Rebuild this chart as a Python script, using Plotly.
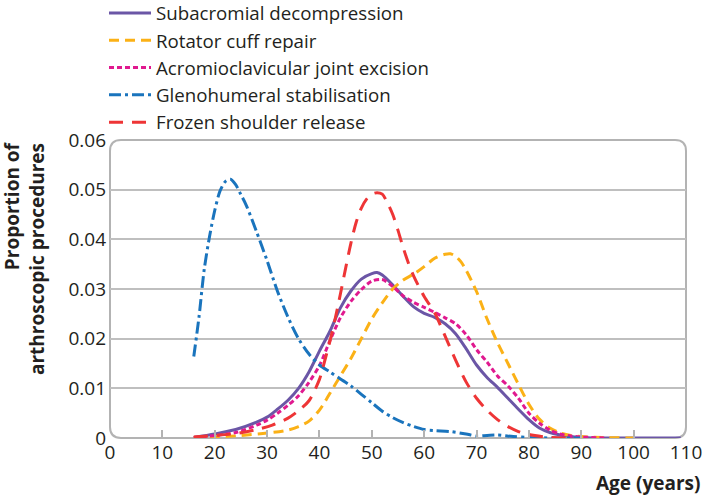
import plotly.graph_objects as go

# ---- data ----
ages_sub = [16, 20, 24, 28, 30, 32, 34, 36, 38, 40, 42, 44, 46, 48, 50, 51, 52, 54, 56, 58, 60, 62, 64, 66, 68, 70, 72, 74, 76, 78, 80, 82, 84, 86, 88, 90, 95, 100, 109]
vals_sub = [0.0001, 0.0008, 0.0017, 0.0032, 0.0042, 0.0058, 0.0076, 0.0100, 0.0133, 0.0175, 0.0215, 0.0262, 0.0296, 0.0320, 0.0331, 0.0333, 0.0328, 0.0308, 0.0285, 0.0264, 0.0251, 0.0243, 0.0230, 0.0210, 0.0180, 0.0147, 0.0122, 0.0102, 0.0080, 0.0058, 0.0037, 0.0020, 0.0011, 0.0006, 0.0003, 0.0001, 0.0, 0.0, 0.0]

ages_rc = [16, 20, 25, 30, 34, 36, 38, 40, 42, 44, 46, 48, 50, 52, 54, 56, 58, 60, 62, 64, 65, 66, 67, 68, 70, 72, 74, 76, 78, 80, 82, 84, 86, 88, 90, 94, 100]
vals_rc = [0.0001, 0.0002, 0.0005, 0.0010, 0.0016, 0.0023, 0.0034, 0.0056, 0.0090, 0.0125, 0.0160, 0.0200, 0.0240, 0.0272, 0.0300, 0.0318, 0.0330, 0.0345, 0.0362, 0.0370, 0.0371, 0.0366, 0.0355, 0.0338, 0.0295, 0.0240, 0.0192, 0.0150, 0.0108, 0.0068, 0.0038, 0.0020, 0.0010, 0.0005, 0.0003, 0.0001, 0.0]

ages_acj = [16, 20, 24, 28, 30, 32, 34, 36, 38, 40, 42, 44, 46, 48, 50, 52, 54, 56, 58, 60, 62, 64, 66, 68, 70, 72, 74, 76, 78, 80, 82, 84, 86, 88, 90, 95]
vals_acj = [0.0001, 0.0005, 0.0011, 0.0026, 0.0036, 0.0050, 0.0066, 0.0085, 0.0112, 0.0146, 0.0196, 0.0242, 0.0275, 0.0299, 0.0316, 0.0319, 0.0305, 0.0286, 0.0273, 0.0263, 0.0253, 0.0242, 0.0230, 0.0208, 0.0178, 0.0153, 0.0125, 0.0105, 0.0080, 0.0050, 0.0030, 0.0016, 0.0008, 0.0004, 0.0002, 0.0]

ages_gh = [16, 17, 18, 19, 20, 21, 22, 23, 24, 25, 26, 28, 30, 32, 34, 36, 38, 40, 42, 44, 46, 48, 50, 52, 54, 56, 58, 60, 62, 65, 68, 70, 72, 74, 77, 80, 85, 90]
vals_gh = [0.0164, 0.0244, 0.0340, 0.0405, 0.0458, 0.0497, 0.0516, 0.0521, 0.0510, 0.0490, 0.0469, 0.0415, 0.0357, 0.0295, 0.0243, 0.0200, 0.0169, 0.0147, 0.0133, 0.0119, 0.0105, 0.0088, 0.0071, 0.0054, 0.0041, 0.0031, 0.0023, 0.0017, 0.0015, 0.0013, 0.0008, 0.0004, 0.0005, 0.0006, 0.0003, 0.0001, 0.0, 0.0]

ages_fs = [16, 20, 24, 28, 31, 34, 36, 38, 40, 41, 42, 43, 44, 45, 46, 47, 48, 49, 50, 51, 52, 53, 54, 55, 56, 57, 58, 60, 62, 64, 66, 68, 70, 72, 74, 76, 78, 80, 84, 88]
vals_fs = [0.0002, 0.0005, 0.0009, 0.0017, 0.0026, 0.0040, 0.0055, 0.0075, 0.0118, 0.0155, 0.0195, 0.0240, 0.0290, 0.0342, 0.0392, 0.0434, 0.0463, 0.0481, 0.0491, 0.0494, 0.0491, 0.0473, 0.0450, 0.0418, 0.0383, 0.0352, 0.0326, 0.0285, 0.0252, 0.0205, 0.0157, 0.0113, 0.0080, 0.0056, 0.0037, 0.0023, 0.0013, 0.0007, 0.0001, 0.0]

x_ticks = [0, 10, 20, 30, 40, 50, 60, 70, 80, 90, 100, 110]
y_ticks = [0, 0.01, 0.02, 0.03, 0.04, 0.05, 0.06]
y_ticktext = ["0", "0.01", "0.02", "0.03", "0.04", "0.05", "0.06"]

FONT = "Open Sans"
TXT = "#231f20"
GRID = "#bfbfbf"

series = [
    ("Subacromial decompression", ages_sub, vals_sub, "#6b56a6", "solid"),
    ("Rotator cuff repair", ages_rc, vals_rc, "#fbb116", "10px,6px"),
    ("Acromioclavicular joint excision", ages_acj, vals_acj, "#e0198f", "5px,3px"),
    ("Glenohumeral stabilisation", ages_gh, vals_gh, "#1a74bd", "12px,4px,3px,4px"),
    ("Frozen shoulder release", ages_fs, vals_fs, "#ee3536", "14px,9px"),
]

fig = go.Figure()
for name, xs, ys, col, dash in series:
    fig.add_trace(go.Scatter(
        x=xs, y=ys, name=name, mode="lines",
        line=dict(color=col, width=3, dash=dash, shape="spline", smoothing=0.8),
    ))

# rounded frame (paper coords), radius ~11px
L, R, T, B = 110, 18, 140, 61.5
W_PLOT, H_PLOT = 704 - L - R, 500 - T - B
rx, ry = 11 / W_PLOT, 11 / H_PLOT
path = (f"M 0,{ry} L 0,{1-ry} Q 0,1 {rx},1 L {1-rx},1 Q 1,1 1,{1-ry} "
        f"L 1,{ry} Q 1,0 {1-rx},0 L {rx},0 Q 0,0 0,{ry} Z")
fig.add_shape(type="path", path=path, xref="paper", yref="paper",
              line=dict(color="#b3b3b3", width=2), layer="below")

def px_x(p):
    return (p - L) / W_PLOT

def px_y(p):
    return (500 - B - p) / H_PLOT

fig.add_annotation(
    text="<b>Proportion of<br>arthroscopic procedures</b>",
    xref="paper", yref="paper", x=px_x(24), y=px_y(139),
    xanchor="center", yanchor="top", textangle=-90, align="right",
    showarrow=False, font=dict(family=FONT, size=19, color=TXT),
)
fig.add_annotation(
    text="<b>Age (years)</b>",
    xref="paper", yref="paper", x=px_x(702), y=px_y(484),
    xanchor="right", yanchor="middle", showarrow=False,
    font=dict(family=FONT, size=19, color=TXT),
)

fig.update_layout(
    width=704, height=500,
    margin=dict(l=L, r=R, t=T, b=B, autoexpand=False),
    paper_bgcolor="white", plot_bgcolor="white",
    font=dict(family=FONT, size=18, color=TXT),
    showlegend=True,
    legend=dict(
        x=px_x(104), y=px_y(-6), xanchor="left", yanchor="top",
        font=dict(family=FONT, size=18.7, color=TXT),
        itemwidth=42, tracegroupgap=0, bgcolor="rgba(0,0,0,0)",
    ),
    xaxis=dict(
        range=[0, 110], tickvals=x_ticks, ticks="", showgrid=False,
        zeroline=False, showline=False, ticklabelstandoff=1,
        tickfont=dict(family=FONT, size=19, color=TXT),
        minor=dict(tickvals=x_ticks[1:-1], ticks="inside", ticklen=8,
                   tickcolor="#b3b3b3", tickwidth=1.5, showgrid=False),
    ),
    yaxis=dict(
        range=[0, 0.06], tickvals=y_ticks, ticktext=y_ticktext, ticks="",
        showgrid=True, gridcolor=GRID, gridwidth=1.5, zeroline=False,
        showline=False, ticklabelstandoff=3,
        tickfont=dict(family=FONT, size=19, color=TXT),
    ),
)

fig.write_html(
    "out.html",
    config={"displayModeBar": False},
    post_script="document.body.style.margin='0';document.body.style.overflow='hidden';",
)
